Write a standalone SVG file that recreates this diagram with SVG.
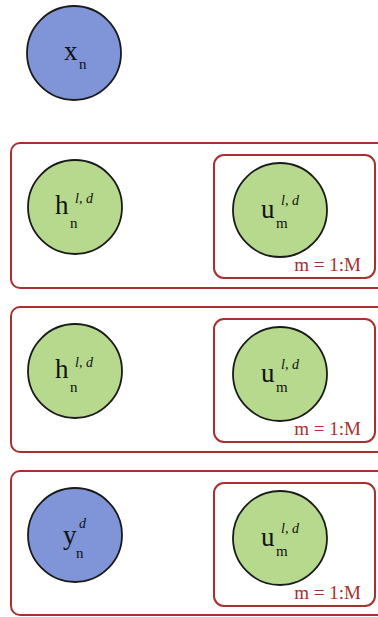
<svg xmlns="http://www.w3.org/2000/svg" width="378" height="617" viewBox="0 0 378 617">
  <defs>
    <style>
      .plate { fill: none; stroke: #a8302f; stroke-width: 2; }
      .node { stroke: #1a1a1a; stroke-width: 1.8; }
      .obs { fill: #7f95d8; }
      .lat { fill: #b7d98d; }
      .main { font-family: "Liberation Serif", serif; font-size: 27px; fill: #111; }
      .sub { font-family: "Liberation Serif", serif; font-size: 15px; fill: #111; }
      .sup { font-family: "Liberation Serif", serif; font-size: 14px; font-style: italic; fill: #111; }
      .plabel { font-family: "Liberation Serif", serif; font-size: 19px; fill: #a8302f; }
    </style>
  </defs>
  <rect width="378" height="617" fill="#ffffff"/>

  <!-- input node -->
  <g id="x_n">
    <circle class="node obs" cx="74" cy="53" r="47"/>
    <text class="main" x="64" y="60">x</text>
    <text class="sub" x="79" y="69">n</text>
  </g>

  <!-- hidden layer 1 -->
  <g id="layer1">
    <rect class="plate" x="11" y="143" width="380" height="145" rx="9"/>
    <rect class="plate" x="214" y="155" width="161" height="123" rx="10"/>
    <text class="plabel" x="361" y="271" text-anchor="end">m = 1:M</text>
  </g>
  <g id="h1">
    <circle class="node lat" cx="75" cy="207" r="47"/>
    <text class="main" x="55" y="214">h</text>
    <text class="sub" x="70" y="228">n</text>
    <text class="sup" x="75" y="203">l, d</text>
  </g>
  <g id="u1">
    <circle class="node lat" cx="280" cy="210" r="47"/>
    <text class="main" x="261" y="218">u</text>
    <text class="sub" x="276" y="228">m</text>
    <text class="sup" x="281" y="205">l, d</text>
  </g>

  <!-- hidden layer 2 -->
  <g id="layer2">
    <rect class="plate" x="11" y="307" width="380" height="145" rx="9"/>
    <rect class="plate" x="214" y="319" width="161" height="123" rx="10"/>
    <text class="plabel" x="361" y="435" text-anchor="end">m = 1:M</text>
  </g>
  <g id="h2">
    <circle class="node lat" cx="75" cy="371" r="47"/>
    <text class="main" x="55" y="378">h</text>
    <text class="sub" x="70" y="392">n</text>
    <text class="sup" x="75" y="367">l, d</text>
  </g>
  <g id="u2">
    <circle class="node lat" cx="280" cy="374" r="47"/>
    <text class="main" x="261" y="382">u</text>
    <text class="sub" x="276" y="392">m</text>
    <text class="sup" x="281" y="369">l, d</text>
  </g>

  <!-- output layer -->
  <g id="layer3">
    <rect class="plate" x="11" y="471" width="380" height="144" rx="9"/>
    <rect class="plate" x="214" y="483" width="161" height="123" rx="10"/>
    <text class="plabel" x="361" y="599" text-anchor="end">m = 1:M</text>
  </g>
  <g id="y_n">
    <circle class="node obs" cx="75" cy="535" r="47"/>
    <text class="main" x="63" y="544">y</text>
    <text class="sub" x="76" y="558">n</text>
    <text class="sup" x="79" y="528">d</text>
  </g>
  <g id="u3">
    <circle class="node lat" cx="280" cy="538" r="47"/>
    <text class="main" x="261" y="546">u</text>
    <text class="sub" x="276" y="556">m</text>
    <text class="sup" x="281" y="533">l, d</text>
  </g>

  <!-- the model has no drawn edges -->
  <g id="connectors"/>
</svg>
